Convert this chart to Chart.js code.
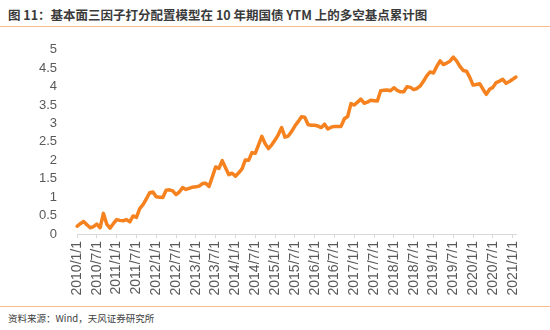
<!DOCTYPE html>
<html>
<head>
<meta charset="utf-8">
<script src="https://cdn.jsdelivr.net/npm/chart.js@4/dist/chart.umd.min.js"></script>
<style>
  html, body { margin: 0; padding: 0; background: #fff; }
  #page { position: relative; width: 550px; height: 330px; overflow: hidden; font-family: "Noto Sans CJK SC", "Liberation Sans", sans-serif; }
  #title { position: absolute; left: 8px; top: 5px; font-size: 12.5px; font-weight: bold; color: #3a3a3a; white-space: nowrap; }
  .rule { position: absolute; left: 0; width: 550px; height: 1px; background: #F8BD8A; }
  #source { position: absolute; left: 8px; top: 311px; font-size: 9.5px; color: #404040; white-space: nowrap; }
  #wrap { position: absolute; left: 0; top: 30px; width: 550px; height: 270px; }
</style>
</head>
<body>
<div id="page">
  <div id="title">图 11：基本面三因子打分配置模型在 10 年期国债 YTM 上的多空基点累计图</div>
  <div class="rule" style="top:26px"></div>
  <div id="wrap"><canvas id="bpChart"></canvas></div>
  <div class="rule" style="top:306px"></div>
  <div id="source">资料来源：Wind，天风证券研究所</div>
</div>
<script>
// monthly dates, 2010/1/1 .. 2021/2/1
const months = [];
for (let y = 2010; y <= 2021; y++) {
  for (let m = 1; m <= 12; m++) {
    if (y === 2021 && m > 2) break;
    months.push(y + "/" + m + "/1");
  }
}

// cumulative long-short basis points
const cumBp = [
  0.21, 0.28, 0.34, 0.25, 0.17, 0.20, 0.27, 0.17, 0.56, 0.27, 0.16, 0.28,
  0.39, 0.37, 0.36, 0.39, 0.33, 0.49, 0.45, 0.69, 0.80, 0.95, 1.12, 1.14,
  1.01, 1.00, 0.99, 1.19, 1.20, 1.17, 1.07, 1.14, 1.26, 1.21, 1.24, 1.27,
  1.28, 1.30, 1.37, 1.38, 1.29, 1.55, 1.82, 1.78, 1.99, 1.80, 1.61, 1.65,
  1.57, 1.66, 1.77, 2.01, 2.00, 2.21, 2.19, 2.42, 2.65, 2.45, 2.32, 2.42,
  2.55, 2.70, 2.89, 2.63, 2.66, 2.78, 2.93, 3.05, 3.18, 3.17, 2.97, 2.95,
  2.95, 2.93, 2.89, 2.98, 2.85, 2.90, 2.92, 2.92, 2.92, 3.13, 3.19, 3.54,
  3.50, 3.58, 3.66, 3.55, 3.58, 3.63, 3.62, 3.61, 3.89, 3.90, 3.91, 3.89,
  3.97, 3.90, 3.86, 3.86, 4.00, 3.98, 3.92, 3.95, 4.02, 4.15, 4.30, 4.40,
  4.37, 4.55, 4.70, 4.60, 4.64, 4.69, 4.80, 4.70, 4.55, 4.44, 4.42, 4.25,
  4.04, 4.06, 4.08, 3.93, 3.79, 3.93, 3.98, 4.11, 4.15, 4.20, 4.09, 4.14,
  4.20, 4.26
];

const yMin = 0;
const yMax = 5;
const yStep = 0.5;

const bpChart = document.getElementById("bpChart");

new Chart(bpChart, {
  type: "line",
  data: {
    labels: months,
    datasets: [
      {
        data: cumBp,
        borderColor: "#F5821F",
        borderWidth: 3.5,
        pointRadius: 0,
        tension: 0,
        borderJoinStyle: "round",
        borderCapStyle: "round",
      },
    ],
  },
  options: {
    responsive: true,
    maintainAspectRatio: false,
    animation: false,
    layout: { padding: { top: 8, right: 34, left: 0, bottom: 0 } },
    plugins: {
      legend: { display: false },
      tooltip: { enabled: false },
    },
    scales: {
      x: {
        offset: false,
        grid: { display: true, drawOnChartArea: false, tickLength: 4, color: "#D9D9D9" },
        border: { display: true, color: "#D9D9D9" },
        ticks: {
          autoSkip: false,
          maxRotation: 90,
          minRotation: 90,
          padding: 3,
          color: "#595959",
          font: { family: "Liberation Sans", size: 14 },
          callback: function (value, index) {
            return index % 6 === 0 ? months[index] : null;
          },
        },
        afterFit: function (scale) { scale.height = 66; },
      },
      y: {
        min: yMin,
        max: yMax,
        grid: { display: false },
        border: { display: false },
        ticks: {
          stepSize: yStep,
          autoSkip: false,
          padding: 12,
          color: "#595959",
          font: { family: "Liberation Sans", size: 13 },
          callback: function (value) { return String(Number(value.toFixed(1))); },
        },
        afterFit: function (scale) { scale.width = 77; },
      },
    },
  },
});
</script>
</body>
</html>
